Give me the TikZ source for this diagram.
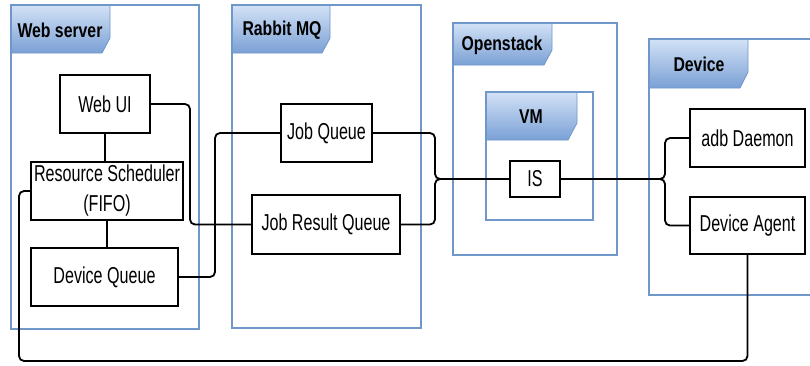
\documentclass[tikz,border=0pt]{standalone}
\usepackage{fontspec}
\setmainfont{Liberation Sans}[FakeStretch=0.70]
\newfontfamily\tabfont{Liberation Sans}[FakeStretch=0.79]
\definecolor{cborder}{HTML}{7097CA}
\definecolor{tabtop}{HTML}{D3E2F6}
\definecolor{tabbot}{HTML}{7AA0D5}
\tikzset{
  box/.style={draw=black, line width=1.8pt, fill=white, inner sep=0pt, outer sep=0pt,
    font=\fontsize{23}{30}\selectfont, align=center},
  container/.style={draw=cborder, line width=2pt},
  tabshade/.style={top color=tabtop, bottom color=tabbot, draw=cborder, line width=0.8pt},
  tablabel/.style={font=\tabfont\bfseries\fontsize{20}{22}\selectfont, inner sep=0pt},
  conn/.style={draw=black, line width=1.8pt, rounded corners=5pt},
}
\begin{document}
\begin{tikzpicture}[x=1pt,y=-1pt]
\useasboundingbox (0,0) rectangle (810,365);
\clip (0,0) rectangle (810,365);
\fill[white] (0,0) rectangle (810,365);

% containers
\fill[white] (11,5) rectangle (199,329);
\shade[tabshade] (11,5) -- (110,5) -- (110,38) -- (102,53) -- (11,53) -- cycle;
\draw[container] (11,5) rectangle (199,329);
\node[tablabel] (lweb) at (60,30) {Web server};

\fill[white] (232,5) rectangle (421,328);
\shade[tabshade] (232,5) -- (330,5) -- (330,38) -- (322,53) -- (232,53) -- cycle;
\draw[container] (232,5) rectangle (421,328);
\node[tablabel] (lrabbit) at (282,30) {Rabbit MQ};

\fill[white] (453,23) rectangle (617,255);
\shade[tabshade] (453,23) -- (552,23) -- (552,50) -- (544,65) -- (453,65) -- cycle;
\draw[container] (453,23) rectangle (617,255);
\node[tablabel] (lopen) at (502,45) {Openstack};

\shade[tabshade] (486,92) -- (577,92) -- (577,123) -- (568,140) -- (486,140) -- cycle;
\draw[container] (486,92) rectangle (593,220);
\node[tablabel] (lvm) at (531,117) {VM};

\fill[white] (649,39) rectangle (840,295);
\shade[tabshade] (649,39) -- (748,39) -- (748,72) -- (740,88) -- (649,88) -- cycle;
\draw[container] (649,39) rectangle (840,295);
\node[tablabel] (ldev) at (699,64) {Device};

% boxes
\node[box, minimum width=90pt, minimum height=58pt] (webui) at (105,104) {Web UI};
\node[box, minimum width=152pt, minimum height=58pt] (rs) at (107,191) {Resource Scheduler\\(FIFO)};
\node[box, minimum width=147pt, minimum height=58pt] (dq) at (104.5,277) {Device Queue};
\node[box, minimum width=91pt, minimum height=58pt] (jq) at (326.5,133) {Job Queue};
\node[box, minimum width=148pt, minimum height=59pt] (jrq) at (326,224.5) {Job Result Queue};
\node[box, minimum width=50pt, minimum height=36pt] (is) at (535,179) {IS};
\node[box, minimum width=115pt, minimum height=58pt] (adb) at (747.5,138) {adb Daemon};
\node[box, minimum width=115pt, minimum height=57pt] (agent) at (747.5,225.5) {Device Agent};

% connectors
\coordinate (jn) at (435,179);
\coordinate (dn) at (665,179);
\coordinate (lb) at (19,361);
\draw[conn] (webui.south) -- (webui.south |- rs.north);
\draw[conn] (rs.south) -- (rs.south |- dq.north);
\draw[conn] (webui.east) -- ++(40,0) |- (jrq.west);
\draw[conn] (dq.east) -- ++(37,0) |- (jq.west);
\draw[conn] (jq.east) -| (jn) -- (is.west);
\draw[conn] (jrq.east) -| (jn) -- (is.west);
\draw[conn] (is.east) -- (dn) |- (adb.west);
\draw[conn] (is.east) -- (dn) |- (agent.west);
\draw[conn] (agent.south) |- (lb) |- (rs.west);
\end{tikzpicture}
\end{document}
